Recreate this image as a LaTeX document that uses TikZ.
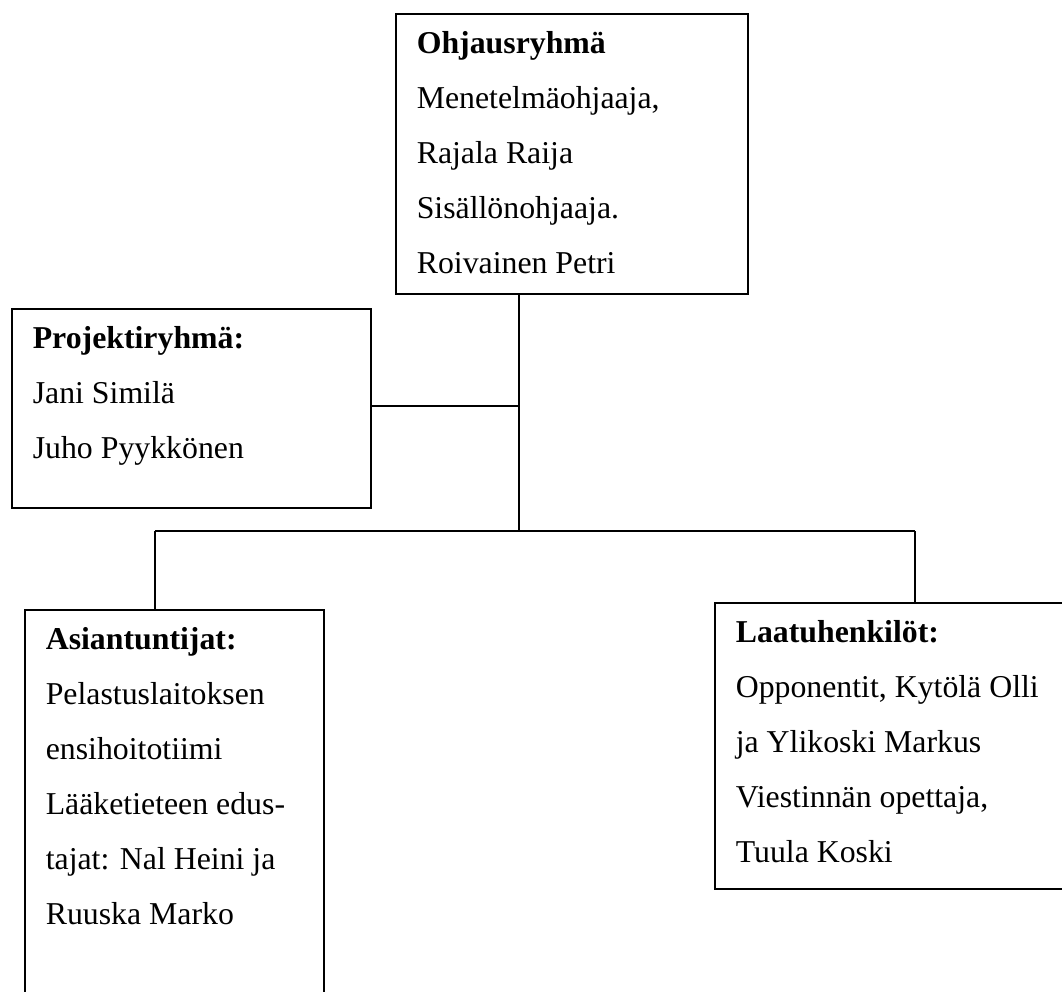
\documentclass[tikz,border=0pt]{standalone}
\usepackage{fontspec}
\setmainfont{Liberation Serif}
\tikzset{
    group/.style={draw, line width=0.8pt, anchor=north west, inner xsep=10.5pt, inner ysep=9pt, font=\fontsize{15.9pt}{27.5pt}\selectfont},
    link/.style={line width=0.8pt}
}
\begin{document}
\begin{tikzpicture}[x=0.5pt, y=-0.5pt]
            \useasboundingbox (0,0) rectangle (1062,992);
            \clip (0,0) rectangle (1062,992);
            % Top: Ohjausryhmä
            \node[group] (ohj) at (395,13) {\parbox[t][122pt][t]{155pt}{\textbf{Ohjausryhmä}\\Menetelmäohjaaja,\\Rajala Raija\\Sisällönohjaaja.\\Roivainen Petri}};
            
            % Left: Projektiryhmä
            \node[group] (proj) at (11,308) {\parbox[t][81.5pt][t]{158.5pt}{\textbf{Projektiryhmä:}\\Jani Similä\\Juho Pyykkönen}};
            
            % Bottom row: Asiantuntijat, Laatuhenkilöt
            \node[group] (asi) at (24,609) {\parbox[t][192pt][t]{128.5pt}{\textbf{Asiantuntijat:}\\Pelastuslaitoksen\\ensihoitotiimi\\Lääketieteen edus-\\tajat: Nal Heini ja\\Ruuska Marko}};
            \node[group] (laatu) at (714,602) {\parbox[t][125pt][t]{179pt}{\textbf{Laatuhenkilöt:}\\Opponentit, Kytölä Olli\\ja Ylikoski Markus\\Viestinnän opettaja,\\Tuula Koski}};
            
            % Connectors
            \coordinate (jn) at (519,406);
            \coordinate (trunk) at (519,531);
            \coordinate (lft) at (155,531);
            \coordinate (rgt) at (915,531);
            \draw[link] (ohj.south -| trunk) -- (trunk);
            \draw[link] (proj.east |- jn) -- (jn);
            \draw[link] (lft) -- (rgt);
            \draw[link] (lft) -- (asi.north -| lft);
            \draw[link] (rgt) -- (laatu.north -| rgt);
        \end{tikzpicture}
\end{document}
